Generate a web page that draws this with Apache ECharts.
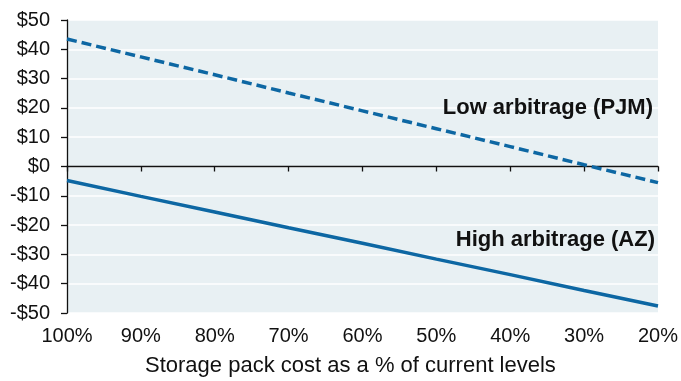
<!DOCTYPE html>
<html><head><meta charset="utf-8">
<script src="https://cdn.jsdelivr.net/npm/echarts@6/dist/echarts.min.js"></script>
<style>html,body{margin:0;padding:0;background:#fff}#c{width:681px;height:381px}</style>
</head><body><div id="c"></div>
<script>
var categories = ['100%','90%','80%','70%','60%','50%','40%','30%','20%'];
var lowArbitrage = [43.5, 37.4, 31.3, 25.1, 19.0, 12.9, 6.8, 0.6, -5.5];
var highArbitrage = [-4.8, -10.2, -15.5, -20.9, -26.2, -31.6, -36.9, -42.3, -47.6];
var yTicks = [-50, -40, -30, -20, -10, 0, 10, 20, 30, 40, 50];

var chart = echarts.init(document.getElementById('c'), null, {renderer:'canvas'});
var font = "'Liberation Sans', Arial, sans-serif";
var col = '#0d67a3';
chart.setOption({
  animation:false,
  textStyle:{fontFamily:font},
  grid:{left:67,right:16,top:20,bottom:68,show:true,backgroundColor:'#e8f0f3',borderWidth:0},
  xAxis:[{
    type:'category', data:categories, boundaryGap:false, position:'bottom',
    axisLine:{show:false,onZero:false}, axisTick:{show:false},
    axisLabel:{color:'#111',fontSize:20,fontFamily:font,margin:13}
  },{
    type:'category', data:categories, boundaryGap:false, position:'bottom',
    axisLine:{show:true,onZero:true,lineStyle:{color:'#111',width:1.3}},
    axisTick:{show:true,length:5,inside:false,lineStyle:{color:'#111',width:1.3}},
    axisLabel:{show:false}
  }],
  yAxis:{
    type:'value', min:-50, max:50, interval:10,
    axisLine:{show:true,onZero:false,lineStyle:{color:'#111',width:1.3}},
    axisTick:{show:true,length:6,lineStyle:{color:'#111',width:1.3}},
    axisLabel:{color:'#111',fontSize:20,fontFamily:font,margin:17,
      formatter:function(v){return (v<0?'-$':'$')+Math.abs(v);}},
    splitLine:{show:true,lineStyle:{color:'#ffffff',width:1.5}}
  },
  graphic:[
    {type:'text',left:30,top:-23,z:100,style:{text:'Net present value ($/kW), per year',fontSize:22,fontFamily:font,fill:'#111'}},
    {type:'text',left:145,top:355,z:100,style:{text:'Storage pack cost as a % of current levels',fontSize:22,fontFamily:font,fill:'#111'}},
    {type:'text',right:28,top:97,z:100,style:{text:'Low arbitrage (PJM)',fontSize:22,fontWeight:'bold',fontFamily:font,fill:'#111'}},
    {type:'text',right:26,top:229,z:100,style:{text:'High arbitrage (AZ)',fontSize:22,fontWeight:'bold',fontFamily:font,fill:'#111'}}
  ],
  series:[
    {type:'line',name:'Low arbitrage (PJM)',data:lowArbitrage,xAxisIndex:0,symbol:'none',
     lineStyle:{color:col,width:3.5,type:[10,5]}},
    {type:'line',name:'High arbitrage (AZ)',data:highArbitrage,xAxisIndex:0,symbol:'none',
     lineStyle:{color:col,width:3.5}}
  ]
});
</script></body></html>
